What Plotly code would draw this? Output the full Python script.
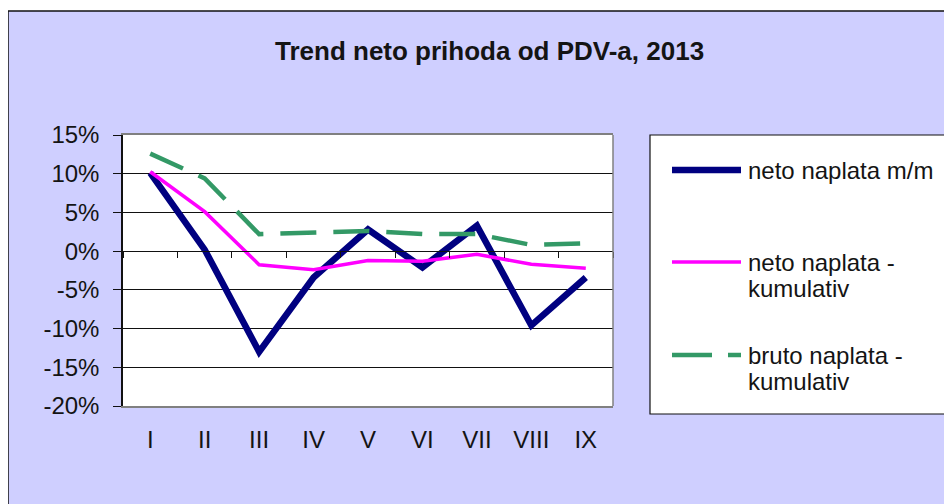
import plotly.graph_objects as go

# ---- data ----
months = ["I", "II", "III", "IV", "V", "VI", "VII", "VIII", "IX"]
neto_mm = [0.101, 0.002, -0.130, -0.034, 0.028, -0.021, 0.033, -0.096, -0.034]
neto_kum = [0.1025, 0.051, -0.0175, -0.024, -0.012, -0.013, -0.004, -0.017, -0.022]
bruto_kum = [0.126, 0.094, 0.022, 0.024, 0.026, 0.022, 0.022, 0.008, 0.010]
y_tick_vals = [0.15, 0.10, 0.05, 0.0, -0.05, -0.10, -0.15, -0.20]
y_tick_text = ["15%", "10%", "5%", "0%", "-5%", "-10%", "-15%", "-20%"]
series_names = ["neto naplata m/m", "neto naplata - kumulativ", "bruto naplata - kumulativ"]
legend_lines = [["neto naplata m/m"], ["neto naplata -", "kumulativ"], ["bruto naplata -", "kumulativ"]]
title_text = "Trend neto prihoda od PDV-a, 2013"

FONT = "Liberation Sans, Arial, sans-serif"
TXT = "#141414"
BG = "#CFCFFF"
colors = ["#000080", "#FF00FF", "#339966"]
widths = [6.5, 3.5, 4.5]
dashes = ["solid", "solid", "36px,17px"]
axes_x = ["x", "x2", "x"]

# the page body adds an 8px offset; work in screen pixels and convert
OFF = 8
W, H = 952 - OFF, 504 - OFF
L, R, T, B = 123, 613, 135, 406          # plot area in screen pixels
pw, ph = R - L, B - T


def px(x):
    return (x - L) / pw


def py(y):
    return (B - y) / ph


fig = go.Figure()
for vals, name, c, w, d, ax in zip([neto_mm, neto_kum, bruto_kum], series_names, colors, widths, dashes, axes_x):
    fig.add_trace(go.Scatter(
        x=months, y=vals, name=name, mode="lines", xaxis=ax,
        line=dict(color=c, width=w, dash=d),
        showlegend=False, hoverinfo="skip",
    ))

shapes = []
# white outside frame strips + frame border
shapes.append(dict(type="rect", xref="paper", yref="paper", x0=px(-20), x1=px(980),
                   y0=py(11), y1=py(-20), fillcolor="white", line=dict(width=0), layer="above"))
shapes.append(dict(type="rect", xref="paper", yref="paper", x0=px(-20), x1=px(8),
                   y0=py(530), y1=py(-20), fillcolor="white", line=dict(width=0), layer="above"))
shapes.append(dict(type="line", xref="paper", yref="paper", x0=px(8), x1=px(980),
                   y0=py(11), y1=py(11), line=dict(color="#111", width=1.5), layer="above"))
shapes.append(dict(type="line", xref="paper", yref="paper", x0=px(8), x1=px(8),
                   y0=py(11), y1=py(530), line=dict(color="#111", width=1.5), layer="above"))
# right border of plot area
shapes.append(dict(type="line", xref="paper", yref="paper", x0=1, x1=1, y0=0, y1=1,
                   line=dict(color="#808080", width=1.5)))
# legend box
shapes.append(dict(type="rect", xref="paper", yref="paper", x0=px(650), x1=px(951),
                   y0=py(414), y1=py(135), fillcolor="white", line=dict(color="#111", width=1.2)))

annotations = [dict(text="<b>" + title_text + "</b>", xref="paper", yref="paper",
                    x=px(489), y=py(51), xanchor="center", yanchor="middle", showarrow=False,
                    font=dict(family=FONT, size=26, color=TXT))]

item_y = [170, 262, 355]
for i, (lines, c, w, d) in enumerate(zip(legend_lines, colors, widths, dashes)):
    y0 = item_y[i]
    if i == 2:
        shapes.append(dict(type="line", xref="paper", yref="paper", x0=px(672), x1=px(712),
                           y0=py(y0), y1=py(y0), line=dict(color=c, width=w)))
        shapes.append(dict(type="line", xref="paper", yref="paper", x0=px(728), x1=px(741),
                           y0=py(y0), y1=py(y0), line=dict(color=c, width=w)))
    else:
        shapes.append(dict(type="line", xref="paper", yref="paper", x0=px(672), x1=px(741),
                           y0=py(y0), y1=py(y0), line=dict(color=c, width=w)))
    for j, t in enumerate(lines):
        annotations.append(dict(text=t, xref="paper", yref="paper", x=px(746), y=py(y0 + j * 26),
                                xanchor="left", yanchor="middle", showarrow=False,
                                font=dict(family=FONT, size=24, color=TXT)))

fig.update_layout(
    width=W, height=H,
    margin=dict(l=L - OFF, r=(952 - R), t=T - OFF, b=(504 - B), pad=0),
    paper_bgcolor=BG, plot_bgcolor="white",
    font=dict(family=FONT, size=24, color=TXT),
    xaxis=dict(type="category", categoryarray=months, range=[-0.5, 8.5],
               showgrid=False, zeroline=False, showline=True, linecolor="#808080", linewidth=1.5,
               mirror=True, ticks="", tickfont=dict(family=FONT, size=24, color=TXT),
               ticklabelstandoff=11),
    xaxis2=dict(type="category", categoryarray=months, range=[-0.5, 8.5], overlaying="x",
                anchor="free", position=(0 - (-0.20)) / 0.35,
                showline=True, linecolor="#111", linewidth=1.2, ticks="outside", tickson="boundaries",
                ticklen=6, tickcolor="#111", tickwidth=1.2, showticklabels=False, showgrid=False,
                zeroline=False),
    yaxis=dict(range=[-0.20, 0.15], tickvals=y_tick_vals, ticktext=y_tick_text,
               showgrid=True, gridcolor="#111", gridwidth=1, zeroline=False,
               showline=True, linecolor="#111", linewidth=1.5,
               ticks="outside", ticklen=8, tickcolor="#111", tickwidth=1.2,
               tickfont=dict(family=FONT, size=24, color=TXT), ticklabelstandoff=9),
    shapes=shapes, annotations=annotations,
    showlegend=False, hovermode=False,
)

fig.write_html("out.html")
